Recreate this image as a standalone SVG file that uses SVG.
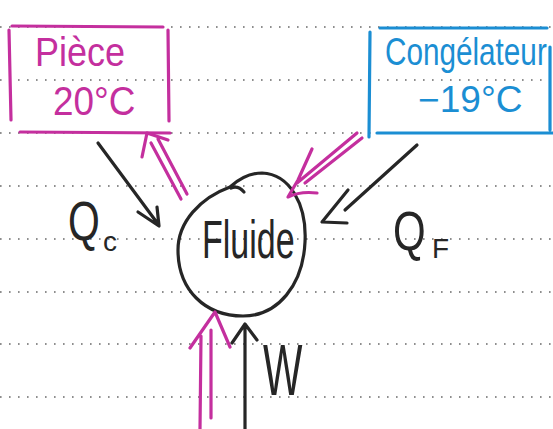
<svg xmlns="http://www.w3.org/2000/svg" width="553" height="429" viewBox="0 0 553 429">
<style>
.dots{stroke:#6a6a6a;stroke-width:1.6;stroke-dasharray:1.6 7.4;fill:none}
.pk{stroke:#c42f9e;stroke-width:3.2;fill:none;stroke-linecap:round;stroke-linejoin:round}
.bl{stroke:#1b8ed3;stroke-width:3.2;fill:none;stroke-linecap:round;stroke-linejoin:round}
.bk{stroke:#262626;stroke-width:3.2;fill:none;stroke-linecap:round;stroke-linejoin:round}
.t{font-family:"Liberation Sans",Arial,sans-serif}
.tpk{fill:#c42f9e}
.tbl{fill:#1b8ed3}
.tbk{fill:#262626}
</style>
<rect width="553" height="429" fill="#ffffff"/>
<g id="ruling">
<line class="dots" x1="0" y1="27" x2="553" y2="27"/>
<line class="dots" x1="0" y1="80" x2="553" y2="80"/>
<line class="dots" x1="0" y1="133" x2="553" y2="133"/>
<line class="dots" x1="0" y1="186" x2="553" y2="186"/>
<line class="dots" x1="0" y1="239" x2="553" y2="239"/>
<line class="dots" x1="0" y1="292" x2="553" y2="292"/>
<line class="dots" x1="0" y1="344" x2="553" y2="344"/>
<line class="dots" x1="0" y1="397" x2="553" y2="397"/>
</g>
<g id="piece">
<path class="pk" d="M12,26 L163,27 M9,30 L11,120 M168,30 L169,121 M20,132 L170,133"/>
<text class="t tpk" transform="translate(35,66) scale(1,1.15)" font-size="36">Pièce</text>
<text class="t tpk" transform="translate(53,115) scale(0.97,1.05)" font-size="38">20°C</text>
</g>
<g id="congelateur">
<path class="bl" d="M380,28 L547,28 M370,32 L369,137 M377,133 L553,133 M550,47 L550,130"/>
<text class="t tbl" transform="translate(385,65) scale(1.08,1.4)" font-size="27.5">Congélateur</text>
<text class="t tbl" transform="translate(418,112) scale(1.03,1)" font-size="36">−19°C</text>
</g>
<g id="fluide">
<path class="bk" d="M230,187 C240,178 250,173 262,173 C290,174 307,205 305,242 C303,285 278,316 243,316 C205,316 178,290 178,250 C178,222 200,198 230,187 Z"/>
<path class="bk" d="M231,188 Q238,185 244,192"/>
<text class="t tbk" transform="translate(202,258) scale(0.63,1)" font-size="54">Fluide</text>
</g>
<g id="labels">
<text class="t tbk" transform="translate(68,240) scale(0.73,1)" font-size="56">Q</text>
<text class="t tbk" x="103" y="251" font-size="28">c</text>
<text class="t tbk" transform="translate(393,250) scale(0.75,1)" font-size="56">Q</text>
<text class="t tbk" x="432" y="258" font-size="28">F</text>
<text class="t tbk" transform="translate(263,395) scale(0.58,1)" font-size="72">W</text>
</g>
<g id="connectors">
<path class="bk" d="M98,143 L158,224 M138,212 L159,226 L157,207"/>
<path class="pk" d="M151,143 L181,199 M158,139 L187,194 M142,157 L147,133 L168,140"/>
<path class="pk" d="M357,133 L297,183 M362,138 L305,183 M312,149 L298,180 L288,197 Q300,191 317,193"/>
<path class="bk" d="M417,145 L345,210 M348,190 L322,222 L347,223"/>
<path class="pk" d="M200,429 L201,336 M211,418 L211,330 M190,348 L215,312 L230,347"/>
<path class="bk" d="M245,429 L245,326 M232,343 L245,324 L257,340"/>
</g>
</svg>
